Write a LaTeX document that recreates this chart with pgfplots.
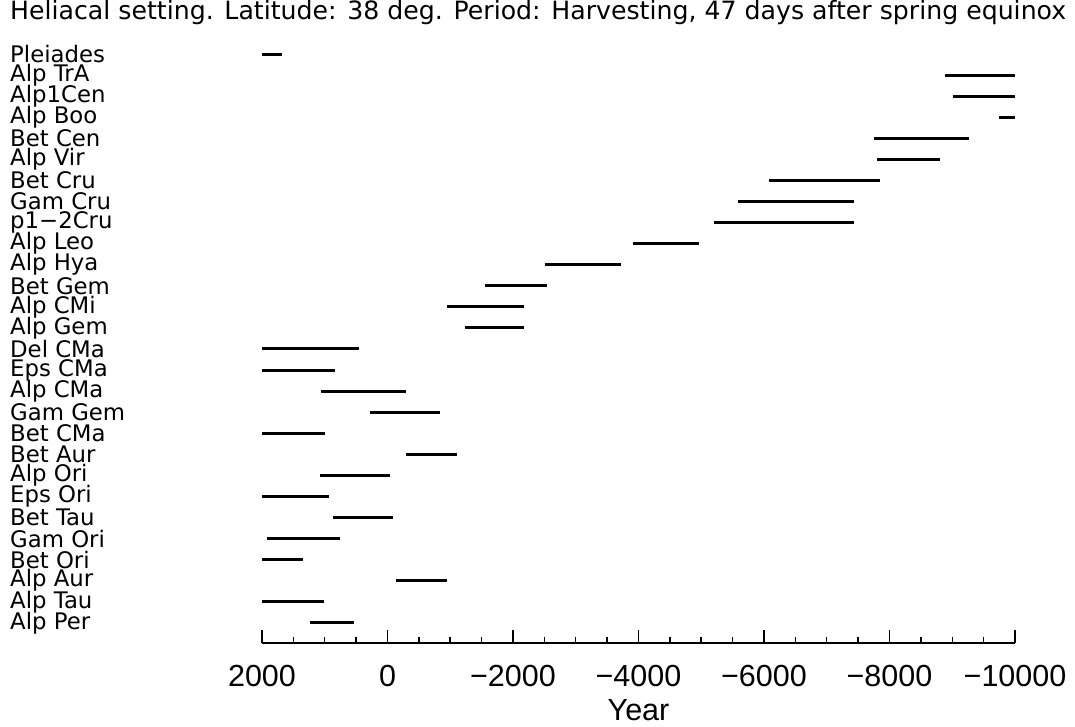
\documentclass[border=0pt]{standalone}
\usepackage{fontspec}
\setmainfont{DejaVu Sans}
\newfontfamily\tickfont{Liberation Sans}
\usepackage{pgfplots}
\pgfplotsset{compat=1.18}
\usepackage{pgfplotstable}

% segments: start and end year, row index (27 = Pleiades at top, 0 = Alp Per at bottom)
\pgfplotstableread{
x y
2000 27
1681 27
nan nan
-8890 26
-10000 26
nan nan
-9007 25
-10000 25
nan nan
-9750 24
-10000 24
nan nan
-7758 23
-9272 23
nan nan
-7800 22
-8810 22
nan nan
-6080 21
-7849 21
nan nan
-5580 20
-7434 20
nan nan
-5198 19
-7434 19
nan nan
-3912 18
-4959 18
nan nan
-2505 17
-3721 17
nan nan
-1554 16
-2537 16
nan nan
-948 15
-2180 15
nan nan
-1230 14
-2180 14
nan nan
2000 13
449 13
nan nan
2000 12
842 12
nan nan
1065 11
-300 11
nan nan
274 10
-837 10
nan nan
2000 9
991 9
nan nan
-300 8
-1103 8
nan nan
1076 7
-44 7
nan nan
2000 6
928 6
nan nan
869 5
-92 5
nan nan
1920 4
752 4
nan nan
2000 3
1347 3
nan nan
-140 2
-953 2
nan nan
2000 1
1012 1
nan nan
1240 0
529 0
}\segments

\begin{document}
\begin{tikzpicture}
\path[use as bounding box] (0,0) rectangle (1075pt,727pt);
\node[anchor=west, inner sep=0pt, font=\fontsize{25.2}{28}\selectfont] at (10pt,714pt)
  {Heliacal setting. Latitude: 38 deg. Period: Harvesting, 47 days after spring equinox};
\begin{axis}[
  at={(262pt,84pt)}, anchor=south west,
  scale only axis, width=753pt, height=610pt,
  x dir=reverse,
  xmin=-10000, xmax=2000,
  ymin=-0.96, ymax=28,
  scaled x ticks=false,
  axis x line*=bottom, axis y line*=left,
  y axis line style={draw=none},
  x axis line style={line width=1.8pt, -},
  xtick={2000,0,-2000,-4000,-6000,-8000,-10000},
  xticklabels={2000,0,−2000,−4000,−6000,−8000,−10000},
  minor x tick num=3,
  xtick align=inside,
  major tick length=12.5pt, minor tick length=6pt,
  every tick/.style={black, line width=1.5pt},
  xticklabel style={font=\tickfont\fontsize{30.5}{34}\selectfont, anchor=center, inner sep=0pt, yshift=-32.6pt},
  xlabel={Year},
  xlabel style={font=\tickfont\fontsize{30.5}{34}\selectfont, at={(axis description cs:0.5,0)}, anchor=center, inner sep=0pt, yshift=-67pt},
  ytick={0,...,27},
  yticklabels={Alp Per,Alp Tau,Alp Aur,Bet Ori,Gam Ori,Bet Tau,Eps Ori,Alp Ori,Bet Aur,Bet CMa,Gam Gem,Alp CMa,Eps CMa,Del CMa,Alp Gem,Alp CMi,Bet Gem,Alp Hya,Alp Leo,p1−2Cru,Gam Cru,Bet Cru,Alp Vir,Bet Cen,Alp Boo,Alp1Cen,Alp TrA,Pleiades},
  ytick style={draw=none},
  yticklabel style={font=\fontsize{22.8}{25}\selectfont, anchor=west, inner sep=0pt, xshift=-252pt},
  clip=false,
  unbounded coords=jump,
]
\addplot[black, line width=3pt, line cap=butt] table[x=x, y=y] {\segments};
\end{axis}
\end{tikzpicture}
\end{document}
